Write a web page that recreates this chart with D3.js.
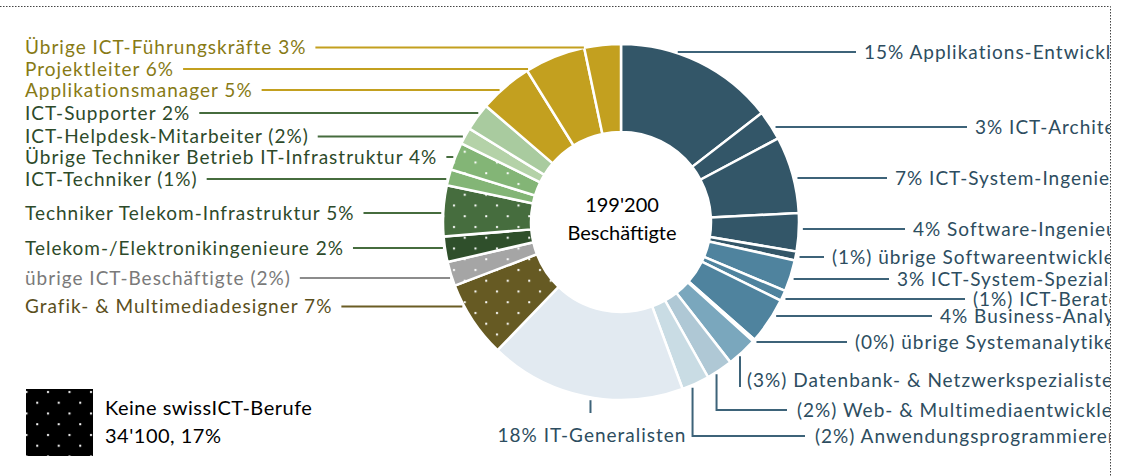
<!DOCTYPE html>
<html>
<head>
<meta charset="utf-8">
<script src="https://cdn.jsdelivr.net/npm/d3@7"></script>
<style>
  body { margin: 0; background: #fff; }
  svg { display: block; font-family: Lato, "Open Sans", sans-serif; }
</style>
</head>
<body>
<svg id="chart" width="1122" height="476"></svg>
<script>
// ICT-Beschäftigte nach Beruf, in Tausend – Reihenfolge im Uhrzeigersinn ab 12 Uhr
const categories = [
  "Applikations-Entwickler", "ICT-Architekten", "ICT-System-Ingenieure", "Software-Ingenieure",
  "übrige Softwareentwickler", "ICT-System-Spezialisten", "ICT-Berater", "Business-Analysten",
  "übrige Systemanalytiker", "Datenbank- & Netzwerkspezialisten", "Web- & Multimediaentwickler",
  "Anwendungsprogrammierer", "IT-Generalisten", "Grafik- & Multimediadesigner",
  "übrige ICT-Beschäftigte", "Telekom-/Elektronikingenieure", "Techniker Telekom-Infrastruktur",
  "ICT-Techniker", "Übrige Techniker Betrieb IT-Infrastruktur", "ICT-Helpdesk-Mitarbeiter",
  "ICT-Supporter", "Applikationsmanager", "Projektleiter", "Übrige ICT-Führungskräfte"
];
const employees = [
  28.9, 5.4, 13.9, 6.9, 1.6, 5.7, 1.9, 8.4, 0.4, 5.5, 4.8, 5.0,
  35.5, 13.9, 4.4, 4.6, 9.2, 2.9, 5.0, 3.0, 5.0, 9.7, 11.0, 6.6
];
const shareLabels = [
  "15%", "3%", "7%", "4%", "(1%)", "3%", "(1%)", "4%", "(0%)", "(3%)", "(2%)", "(2%)",
  "18%", "7%", "(2%)", "2%", "5%", "(1%)", "4%", "(2%)", "2%", "5%", "6%", "3%"
];
// true = kein swissICT-Beruf (gepunktet)
const noSwissICT = [
  false, false, false, false, false, false, false, false, false, false, false, false,
  false, true, true, true, true, false, true, false, false, false, false, false
];
const totalLabel = ["199'200", "Beschäftigte"];
const legendLabel = ["Keine swissICT-Berufe", "34'100, 17%"];

// styles
const blue = "#335668", blueMid = "#4f839e", gold = "#c3a01f";
const sliceColors = [
  blue, blue, blue, blue, blue,
  blueMid, blueMid, blueMid, blueMid,
  "#7aa7bd", "#afc8d5", "#c9dce4", "#e2eaf1",
  "#665a23", "#a5a5a5", "#2f4f2b", "#466d3e", "#83b576", "#83b576", "#b4d2a8", "#a9cb9f",
  gold, gold, gold
];
const blueText = "#2d4d60", greenText = "#2d4a2a", goldText = "#877a15";
const textColors = [
  ...Array(13).fill(blueText),
  "#5b4f1c", "#7a7a7a",
  ...Array(6).fill(greenText),
  goldText, goldText, goldText
];
const blueLine = "#3d6379", greenLine = "#466c3e";
const lineColors = [
  ...Array(13).fill(blueLine),
  "#6b5d24", "#8c8c8c",
  ...Array(6).fill(greenLine),
  gold, gold, gold
];

// label placement: side, text x, text y
const labelSide = [
  "r", "r", "r", "r", "r", "r", "r", "r", "r", "down", "elbow", "elbow",
  "below", "l", "l", "l", "l", "l", "l", "l", "l", "l", "l", "l"
];
const labelX = [864, 975, 895, 913, 832, 897, 973, 940, 855, 747, 797, 815, 592,
  25, 25, 25, 25, 25, 25, 25, 25, 25, 25, 25];
const labelY = [52, 127, 178, 229, 257, 279, 299, 316, 342, 380, 410, 436, 435,
  306.5, 278, 248, 213, 179, 157, 136.5, 113, 90, 69, 47.5];

const width = 1122, height = 476;
const cx = 621, cy = 222, R = 178, r0 = 90;
const fontSize = 19;

const svg = d3.select("#chart");
const defs = svg.append("defs");

const pat = defs.append("pattern")
  .attr("id", "dots")
  .attr("patternUnits", "userSpaceOnUse")
  .attr("width", 21.5).attr("height", 21.5);
pat.append("rect").attr("x", 4).attr("y", 4).attr("width", 2).attr("height", 2).attr("fill", "#fff");
pat.append("rect").attr("x", 14.75).attr("y", 14.75).attr("width", 2).attr("height", 2).attr("fill", "#fff");

defs.append("clipPath").attr("id", "frame")
  .append("rect").attr("x", 0).attr("y", 0).attr("width", 1110).attr("height", height);

// frame (dotted, top and right)
svg.append("path")
  .attr("d", `M0,6.5H1110.5V${height}`)
  .attr("fill", "none")
  .attr("stroke", "#444")
  .attr("stroke-dasharray", "1.5 1.5");

const pie = d3.pie().sort(null).value(d => d);
const arcs = pie(employees);
const arc = d3.arc().innerRadius(r0).outerRadius(R);
const dotArc = d3.arc().innerRadius(r0 + 1).outerRadius(R - 1);

const donut = svg.append("g").attr("transform", `translate(${cx},${cy})`);
donut.selectAll("path.slice")
  .data(arcs)
  .join("path")
  .attr("class", "slice")
  .attr("d", arc)
  .attr("fill", (d, i) => sliceColors[i])
  .attr("stroke", "#fff")
  .attr("stroke-width", 2.5);
donut.selectAll("path.dots")
  .data(arcs.filter((d, i) => noSwissICT[i]))
  .join("path")
  .attr("class", "dots")
  .attr("d", dotArc)
  .attr("fill", "url(#dots)");

// centre text
svg.append("text").attr("x", cx + 1).attr("y", 212)
  .attr("text-anchor", "middle").attr("font-size", 20).attr("fill", "#000")
  .text(totalLabel[0]);
svg.append("text").attr("x", cx + 1).attr("y", 240)
  .attr("text-anchor", "middle").attr("font-size", 20).attr("fill", "#000")
  .text(totalLabel[1]);

// labels and leader lines
const labels = svg.append("g")
  .attr("clip-path", "url(#frame)")
  .attr("font-size", fontSize)
  .attr("letter-spacing", 1);
const leaders = svg.append("g").attr("fill", "none").attr("stroke-width", 2);

function circleX(y, side) {
  const dy = y - cy;
  const dx = Math.sqrt(Math.max(0, R * R - dy * dy));
  return side === "l" ? cx - dx : cx + dx;
}

arcs.forEach((d, i) => {
  const side = labelSide[i];
  const x = labelX[i], y = labelY[i];
  const mid = (d.startAngle + d.endAngle) / 2;
  const px = cx + R * Math.sin(mid), py = cy - R * Math.cos(mid);
  const text = side === "l"
    ? categories[i] + " " + shareLabels[i]
    : shareLabels[i] + " " + categories[i];

  const t = labels.append("text")
    .attr("x", x).attr("y", y).attr("dy", "0.35em")
    .attr("fill", textColors[i])
    .attr("text-anchor", side === "below" ? "middle" : "start")
    .text(text);

  let path;
  if (side === "l") {
    const end = x + t.node().getComputedTextLength() + 9;
    path = `M${end},${y}H${circleX(y, "l") - 2}`;
  } else if (side === "r") {
    path = `M${circleX(y, "r") + 4},${y}H${x - 8}`;
  } else if (side === "down") {
    path = `M${x - 7},${py + 4}V${y + 7}`;
  } else if (side === "elbow") {
    path = `M${px - 3},${py + 4}V${y}H${x - 10}`;
  } else {
    path = `M${px + 6},${py + 4}V${y - 22}`;
  }
  leaders.append("path").attr("d", path).attr("stroke", lineColors[i]);
});

// legend
const lg = svg.append("g").attr("font-size", 20).attr("fill", "#000").attr("letter-spacing", 0.5);
lg.append("rect").attr("x", 26).attr("y", 389).attr("width", 67).attr("height", 67).attr("fill", "#000");
lg.append("rect").attr("x", 26).attr("y", 389).attr("width", 67).attr("height", 67).attr("fill", "url(#dots)");
lg.append("text").attr("x", 105).attr("y", 415).text(legendLabel[0]);
lg.append("text").attr("x", 105).attr("y", 443).text(legendLabel[1]);
</script>
</body>
</html>
